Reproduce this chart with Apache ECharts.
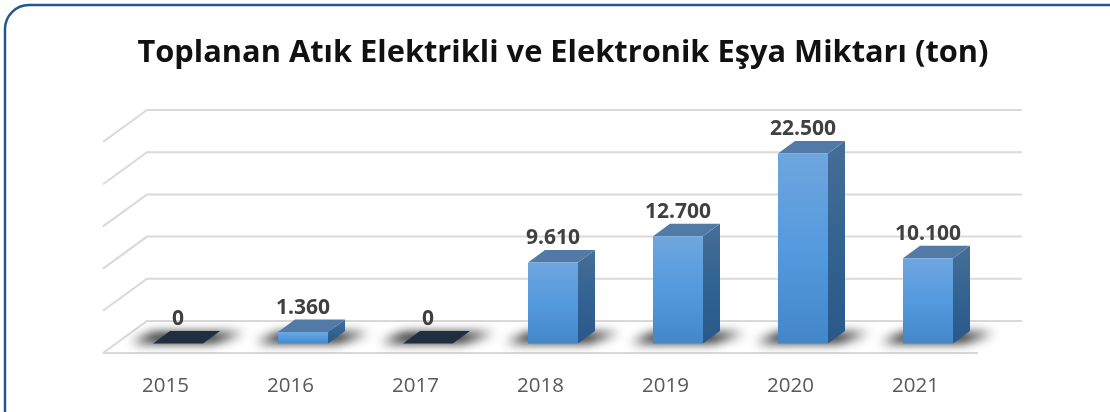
<!DOCTYPE html>
<html>
<head>
<meta charset="utf-8">
<style>html,body{margin:0;padding:0;background:#fff}</style>
<script src="https://cdn.jsdelivr.net/npm/echarts@6/dist/echarts.min.js"></script>
</head>
<body>
<div id="main" style="width:1110px;height:412px"></div>
<script type="text/javascript">
var titleText = 'Toplanan Atık Elektrikli ve Elektronik Eşya Miktarı (ton)';
var years = ['2015', '2016', '2017', '2018', '2019', '2020', '2021'];
var amounts = [0, 1360, 0, 9610, 12700, 22500, 10100];
var axisTicks = [0, 5000, 10000, 15000, 20000, 25000];

// fake 3D: pixel offsets from the front plane of the grid
var WALL_DX = 44, WALL_DY = -32;   // floor depth
var BAR_DX = 12.5, BAR_DY = -9.5;  // where the bars stand on the floor
var DEPTH_DX = 17, DEPTH_DY = -12.5; // depth of a bar
var BAR_W = 50;
var OFFSCREEN = 3000; // shadow shape is drawn off canvas, only its blur lands on the chart

function vgrad(top, mid, bottom) {
    return new echarts.graphic.LinearGradient(0, 0, 0, 1, [
        { offset: 0, color: top },
        { offset: 0.5, color: mid },
        { offset: 1, color: bottom }
    ]);
}

function renderWall(params, api) {
    var start = api.coord([0, api.value(0)]);
    var size = api.size([1, 0]);
    var x0 = start[0] - size[0] / 2, y0 = start[1];
    var lineStyle = { stroke: '#d9d9d9', lineWidth: 2, fill: null };
    var kids = [{
        type: 'polyline',
        shape: { points: [[x0, y0], [x0 + WALL_DX, y0 + WALL_DY], [x0 + WALL_DX + size[0] * years.length, y0 + WALL_DY]] },
        style: lineStyle
    }];
    if (api.value(0) === 0) {
        kids.push({
            type: 'line',
            shape: { x1: x0, y1: y0, x2: x0 + size[0] * years.length, y2: y0 },
            style: lineStyle
        });
    }
    return { type: 'group', children: kids };
}

function renderBar(params, api) {
    var val = api.value(1);
    var base = api.coord([api.value(0), 0]);
    var top = api.coord([api.value(0), val]);
    var x0 = base[0] + BAR_DX - BAR_W / 2, x1 = x0 + BAR_W;
    var yb = base[1] + BAR_DY, yt = top[1] + BAR_DY;
    var dx = DEPTH_DX, dy = DEPTH_DY;
    var kids = [];

    // soft shadow on the floor
    kids.push({
        type: 'polygon',
        shape: { points: [
            [x0 - 22 - OFFSCREEN, yb - 1],
            [x1 + 10 - OFFSCREEN, yb - 1],
            [x1 + dx + 24 - OFFSCREEN, yb + dy + 2],
            [x0 + dx - 16 - OFFSCREEN, yb + dy + 2]
        ] },
        style: { fill: '#000', shadowBlur: 11, shadowColor: '#000', shadowOffsetX: OFFSCREEN }
    });

    if (val === 0) {
        kids.push({
            type: 'polygon',
            shape: { points: [[x0, yb], [x1, yb], [x1 + dx, yb + dy], [x0 + dx, yb + dy]] },
            style: { fill: '#1f2f40' }
        });
    } else {
        kids.push({
            type: 'polygon',
            shape: { points: [[x1, yb], [x1 + dx, yb + dy], [x1 + dx, yt + dy], [x1, yt]] },
            style: { fill: vgrad('#466e97', '#336391', '#29588a') }
        });
        kids.push({
            type: 'polygon',
            shape: { points: [[x0, yt], [x1, yt], [x1 + dx, yt + dy], [x0 + dx, yt + dy]] },
            style: { fill: '#527aa6' }
        });
        kids.push({
            type: 'rect',
            shape: { x: x0, y: yt, width: BAR_W, height: yb - yt },
            style: { fill: vgrad('#6fa6de', '#549ade', '#4387c9') }
        });
    }

    kids.push({
        type: 'text',
        style: {
            x: x0 + BAR_W / 2,
            y: yt + dy - 12,
            text: String(val).replace(/\B(?=(\d{3})+$)/g, '.'),
            align: 'center',
            verticalAlign: 'middle',
            fill: '#404040',
            font: 'bold 21px "Open Sans"'
        }
    });
    return { type: 'group', children: kids };
}

var myChart = echarts.init(document.getElementById('main'), null, { renderer: 'canvas' });
var option = {
    animation: false,
    backgroundColor: '#ffffff',
    title: {
        text: titleText,
        left: 558,
        top: 33,
        textAlign: 'center',
        textStyle: { fontFamily: 'Open Sans', fontWeight: 'bold', fontSize: 30.8, color: '#111111' }
    },
    graphic: [{
        type: 'rect',
        silent: true,
        shape: { x: 5, y: 5, width: 1130, height: 430, r: 24 },
        style: { fill: null, stroke: '#24588a', lineWidth: 2.5 }
    }],
    grid: { left: 103, top: 142, width: 875, height: 211 },
    xAxis: {
        type: 'category',
        data: years,
        axisLine: { show: false },
        axisTick: { show: false },
        axisLabel: { color: '#595959', fontFamily: 'Open Sans', fontSize: 20.5, margin: 23 }
    },
    yAxis: {
        type: 'value',
        min: 0,
        max: 25000,
        interval: 5000,
        axisLabel: { show: false },
        axisLine: { show: false },
        axisTick: { show: false },
        splitLine: { show: false }
    },
    series: [
        {
            type: 'custom',
            z: 1,
            silent: true,
            renderItem: renderWall,
            encode: { x: 1, y: 0 },
            data: axisTicks.map(function (t) { return [t]; }),
            clip: false
        },
        {
            type: 'custom',
            z: 2,
            silent: true,
            renderItem: renderBar,
            encode: { x: 0, y: 1 },
            data: amounts.map(function (v, i) { return [i, v]; }),
            clip: false
        }
    ]
};
myChart.setOption(option);
</script>
</body>
</html>
